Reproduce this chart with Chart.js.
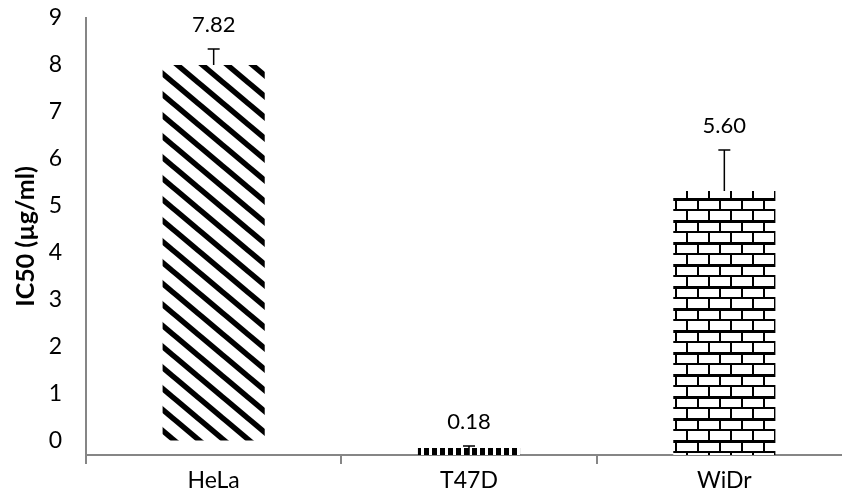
<!DOCTYPE html>
<html>
<head>
<meta charset="utf-8">
<script src="https://cdn.jsdelivr.net/npm/chart.js@4.4.1/dist/chart.umd.min.js"></script>
<style>
html,body{margin:0;padding:0;background:#fff;overflow:hidden;}
canvas{display:block;}
</style>
</head>
<body>
<canvas id="chart" width="852" height="488"></canvas>
<script>
// values (bar start / bar end in axis units)
const cellLines = ["HeLa", "T47D", "WiDr"];
const barLow = [0, -0.3, -0.3];
const barHigh = [8.0, -0.15, 5.32];
const errPlus = [0.34, 0.04, 0.87];
const valueLabels = ["7.82", "0.18", "5.60"];
const yTicks = [0, 1, 2, 3, 4, 5, 6, 7, 8, 9];

const FONT = "Lato";

function stripePattern(){
    const w=25,h=21;
    const c=document.createElement("canvas");
    c.width=w;c.height=h;
    const g=c.getContext("2d");
    g.fillStyle="#fff";g.fillRect(0,0,w,h);
    g.strokeStyle="#000";g.lineWidth=5.5;
    [-h,0,h].forEach(dy=>{
        g.beginPath();
        g.moveTo(-w,-h+dy);
        g.lineTo(2*w,2*h+dy);
        g.stroke();
    });
    return g.createPattern(c,"repeat");
}

function dotPattern(){
    const c=document.createElement("canvas");
    c.width=8;c.height=7;
    const g=c.getContext("2d");
    g.fillStyle="#fff";g.fillRect(0,0,8,7);
    g.fillStyle="#000";g.fillRect(0,0,5,7);
    return g.createPattern(c,"repeat");
}

function brickPattern(){
    const w=22,h=22;
    const c=document.createElement("canvas");
    c.width=w;c.height=h;
    const g=c.getContext("2d");
    g.fillStyle="#fff";g.fillRect(0,0,w,h);
    g.fillStyle="#000";
    g.fillRect(0,0,w,3);
    g.fillRect(0,11,w,2);
    g.fillRect(15,0,2,11);
    g.fillRect(4,11,2,11);
    return g.createPattern(c,"repeat");
}

const errorBars={
    id:"errorBars",
    afterDatasetsDraw(chart){
        const ctx=chart.ctx;
        const y=chart.scales.y;
        const meta=chart.getDatasetMeta(0);
        ctx.save();
        ctx.strokeStyle="#000";
        ctx.lineWidth=1.5;
        meta.data.forEach((bar,i)=>{
            const top=y.getPixelForValue(barHigh[i]+errPlus[i]);
            ctx.beginPath();
            ctx.moveTo(bar.x,bar.y);
            ctx.lineTo(bar.x,top);
            ctx.moveTo(bar.x-6,top);
            ctx.lineTo(bar.x+6,top);
            ctx.stroke();
            ctx.fillStyle="#000";
            ctx.font="22px "+FONT;
            ctx.textAlign="center";
            ctx.textBaseline="middle";
            ctx.fillText(valueLabels[i],bar.x,top-24);
        });
        ctx.restore();
    }
};

const ctx=document.getElementById("chart").getContext("2d");
new Chart(ctx,{
    type:"bar",
    data:{
        labels:cellLines,
        datasets:[{
            data:cellLines.map((c,i)=>[barLow[i],barHigh[i]]),
            backgroundColor:[stripePattern(),dotPattern(),brickPattern()],
            borderWidth:0,
            barPercentage:0.4,
            categoryPercentage:1
        }]
    },
    options:{
        responsive:false,
        animation:false,
        devicePixelRatio:1,
        layout:{padding:{top:0,left:0,right:0,bottom:0}},
        plugins:{legend:{display:false},tooltip:{enabled:false}},
        scales:{
            x:{
                afterFit(s){s.height=33;},
                grid:{offset:true,drawOnChartArea:false,tickLength:9,color:"#868686",lineWidth:2},
                border:{color:"#868686",width:2},
                ticks:{color:"#000",font:{family:FONT,size:23},padding:3}
            },
            y:{
                min:-0.3,
                max:9,
                afterBuildTicks(s){s.ticks=yTicks.map(v=>({value:v}));},
                afterFit(s){s.width=86;s.paddingTop=18;s.paddingBottom=0;},
                grid:{drawOnChartArea:false,drawTicks:false},
                border:{color:"#868686",width:2},
                ticks:{color:"#000",font:{family:FONT,size:23},padding:24},
                title:{display:true,text:"IC50 (µg/ml)",color:"#000",font:{family:FONT,size:25,weight:"bold"},padding:{top:11,bottom:0}}
            }
        }
    },
    plugins:[errorBars]
});
</script>
</body>
</html>
